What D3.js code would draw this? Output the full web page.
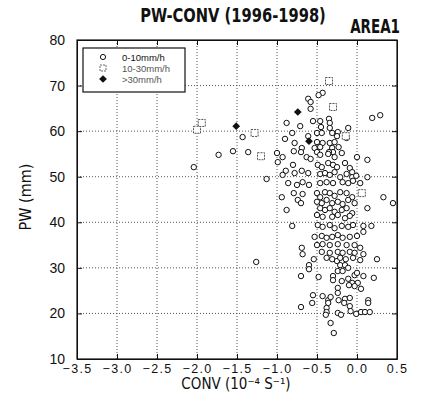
<!DOCTYPE html>
<html>
<head>
<meta charset="utf-8">
<script src="https://cdn.jsdelivr.net/npm/d3@7/dist/d3.min.js"></script>
<style>
  body { margin: 0; background: #fff; }
  text { font-family: "Liberation Sans", Arial, sans-serif; fill: #111; }
  .narrow { font-family: "Liberation Sans Narrow", "DejaVu Sans Condensed", sans-serif; font-weight: bold; }
</style>
</head>
<body>
<svg id="chart" width="421" height="419"></svg>
<script>
// axis ticks
const xTicks = [-3.5, -3.0, -2.5, -2.0, -1.5, -1.0, -0.5, 0.0, 0.5];
const yTicks = [10, 20, 30, 40, 50, 60, 70, 80];
const legendLabels = ["0-10mm/h", "10-30mm/h", ">30mm/h"];

// rain 0-10mm/h  [CONV, PW]
const low = [
  [-1.43,58.7],[-1.55,55.6],[-1.73,54.8],[-2.04,52.1],[-1.36,55.4],[-1.13,49.5],[-1.26,31.3],
  [-0.43,68.4],[-0.48,67.9],[-0.61,67.1],[-0.58,66.4],[-0.58,64.9],[0.29,63.5],[0.19,62.9],
  [-0.88,61.8],[-0.55,62.2],[-0.46,62.2],[-0.35,62.7],[-0.34,61.8],[-0.71,61.1],[-0.45,60.9],
  [-0.34,60.7],[-0.11,60.7],[-0.24,59.8],[-0.81,59.6],[-0.90,58.3],[-0.61,58.9],[-0.50,59.6],
  [-0.44,59.6],[-0.31,59.6],[-0.25,58.9],[-0.13,58.5],[-0.50,57.6],[-0.43,57.4],[-0.34,57.4],
  [-0.28,57.6],[-0.23,56.5],[-0.31,56.3],[-0.78,57.4],[-0.69,56.3],[-0.79,55.6],[-0.70,55.4],
  [-0.53,56.3],[-0.46,56.5],[-0.30,55.4],[-0.35,55.4],[-1.00,55.2],[-0.93,54.3],[-0.99,53.2],
  [0.33,45.5],[0.45,44.2],[-0.89,51.3],
  [-0.63,54.3],[-0.58,53.9],[-0.50,55.4],[-0.46,54.8],[-0.36,55.0],[-0.28,54.3],[-0.19,55.2],
  [0.00,54.3],[0.13,53.7],[-0.80,52.6],[-0.49,52.6],[-0.44,52.1],[-0.36,53.0],[-0.30,52.6],
  [-0.25,52.1],[-0.15,53.0],[-0.09,51.9],[-0.06,51.0],[-0.93,50.4],[-0.78,50.8],[-0.69,51.3],
  [-0.61,50.8],[-0.46,50.6],[-0.40,50.8],[-0.34,50.4],[-0.28,51.0],[-0.21,49.9],[-0.13,50.6],
  [-0.06,49.9],[-0.01,50.2],[0.13,49.9],[-0.86,48.6],[-0.75,48.2],[-0.68,48.8],[-0.60,48.2],
  [-0.46,48.6],[-0.38,48.8],[-0.30,48.6],[-0.18,48.8],[-0.11,48.6],[-0.05,49.1],[0.04,48.6],
  [-0.79,46.4],[-0.68,46.2],[-0.50,46.4],[-0.46,45.5],[-0.40,46.6],[-0.34,46.4],[-0.28,45.8],
  [-0.21,46.6],[-0.13,46.4],[-0.06,45.5],[-0.94,45.5],[-0.74,44.9],[-0.70,44.2],[-0.50,44.5],
  [-0.44,44.2],[-0.38,44.9],[-0.31,44.2],[-0.24,44.5],[-0.18,44.0],[-0.11,44.9],[-0.03,44.2],
  [-0.88,42.7],[-0.46,43.1],[-0.40,42.7],[-0.34,43.1],[-0.28,42.3],[-0.19,42.7],[-0.13,43.1],
  [-0.06,42.0],[0.13,43.1],[-0.50,41.6],[-0.43,41.2],[-0.31,41.2],[-0.24,41.6],[-0.15,40.9],
  [-0.09,41.4],[-0.81,39.2],[-0.49,39.4],[-0.43,39.0],[-0.34,39.4],[-0.28,38.7],[-0.19,39.2],
  [-0.11,39.0],[-0.05,39.4],[0.08,39.2],[0.18,39.2],[-0.53,36.8],[-0.44,37.0],[-0.38,36.6],
  [-0.31,36.8],[-0.24,37.2],[-0.18,36.6],[-0.09,36.8],[0.00,37.0],[0.08,37.9],[-0.50,35.0],
  [-0.43,35.2],[-0.34,35.0],[-0.24,35.2],[-0.13,35.0],[-0.03,35.0],[-0.69,34.4],[0.04,34.4],
  [-0.68,33.0],[-0.44,33.5],[-0.34,33.3],[-0.24,33.5],[-0.18,33.3],[-0.09,33.5],[-0.03,33.3],
  [0.08,33.0],[-0.54,31.9],[-0.38,32.2],[-0.31,31.9],[-0.25,31.5],[-0.21,32.2],[-0.14,31.9],
  [-0.05,32.2],[0.04,31.7],[0.25,31.9],[-0.60,30.6],[-0.60,29.7],[-0.21,30.6],[-0.15,30.6],
  [-0.11,30.0],[-0.24,29.3],[-0.18,29.3],[-0.70,28.2],[-0.48,28.0],[-0.30,28.2],[-0.30,27.3],
  [-0.19,27.1],[-0.11,27.6],[-0.03,28.4],[0.00,28.9],[-0.06,26.7],[0.01,26.7],[0.08,28.2],
  [0.21,27.8],[-0.10,26.2],[-0.03,26.0],[0.05,25.4],[-0.24,25.6],[-0.24,24.5],[-0.55,24.0],
  [-0.43,23.8],[-0.56,22.3],[-0.36,22.9],[-0.33,23.6],[-0.23,22.9],[-0.15,23.2],[-0.09,23.4],
  [-0.16,22.3],[-0.36,22.3],[0.14,22.9],[0.14,22.3],[-0.70,21.4],[-0.38,21.2],[-0.09,21.6],
  [-0.08,20.5],[-0.38,20.3],[-0.39,19.7],[-0.24,20.1],[-0.20,19.7],[-0.01,19.9],[0.05,20.3],
  [0.10,20.3],[0.16,20.3],[-0.33,17.9],[-0.29,15.7]
];

// rain 10-30mm/h
const mid = [
  [-2.00,60.3],[-1.94,61.8],[-1.28,59.6],[-1.20,54.5],[-0.30,65.3],[-0.35,71.0],[0.06,46.4],[-0.14,58.9]
];

// rain >30mm/h
const high = [
  [-1.51,61.1],[-0.74,64.2],[-0.60,57.8]
];

const svg = d3.select("#chart");
const plotL = 77, plotR = 397, plotT = 40, plotB = 359;

const x = d3.scaleLinear().domain([-3.5, 0.5]).range([plotL, plotR]);
const y = d3.scaleLinear().domain([10, 80]).range([plotB, plotT]);

// grid
svg.append("g").selectAll("line")
    .data(xTicks.slice(1, -1))
    .enter().append("line")
    .attr("x1", d => x(d)).attr("x2", d => x(d))
    .attr("y1", plotT).attr("y2", plotB)
    .attr("stroke", "#555").attr("stroke-width", 1)
    .attr("stroke-dasharray", "1,2");
svg.append("g").selectAll("line")
    .data(yTicks.slice(1, -1))
    .enter().append("line")
    .attr("y1", d => y(d)).attr("y2", d => y(d))
    .attr("x1", plotL).attr("x2", plotR)
    .attr("stroke", "#555").attr("stroke-width", 1)
    .attr("stroke-dasharray", "1,2");

// axes with inner ticks
const xAxis = svg.append("g")
    .attr("transform", `translate(0,${plotB})`)
    .call(d3.axisBottom(x).tickValues(xTicks).tickSizeInner(-5).tickSizeOuter(0)
        .tickFormat(d => d3.format(".1f")(d).replace("-", "\u2212")));
xAxis.selectAll("text").attr("y", 5).attr("dy", "0.71em").style("font-size", "12.5px").style("letter-spacing", "1.3px");

const yAxis = svg.append("g")
    .attr("transform", `translate(${plotL},0)`)
    .call(d3.axisLeft(y).tickValues(yTicks).tickSizeInner(-5).tickSizeOuter(0));
yAxis.selectAll("text").attr("x", -12).style("font-size", "14px");

svg.append("g").attr("transform", `translate(0,${plotT})`)
    .call(d3.axisTop(x).tickValues(xTicks).tickSizeInner(-5).tickSizeOuter(0).tickFormat(""));
svg.append("g").attr("transform", `translate(${plotR},0)`)
    .call(d3.axisRight(y).tickValues(yTicks).tickSizeInner(-5).tickSizeOuter(0).tickFormat(""));

svg.selectAll(".domain").attr("stroke", "#111");
svg.selectAll(".tick line").attr("stroke", "#111");

// frame
svg.append("rect")
    .attr("x", plotL).attr("y", plotT)
    .attr("width", plotR - plotL).attr("height", plotB - plotT)
    .attr("fill", "none").attr("stroke", "#111").attr("stroke-width", 1.2);

// points
svg.append("g").selectAll("circle")
    .data(low)
    .enter().append("circle")
    .attr("cx", d => x(d[0])).attr("cy", d => y(d[1]))
    .attr("r", 2.7)
    .attr("fill", "#fff").attr("stroke", "#111").attr("stroke-width", 1);

svg.append("g").selectAll("rect")
    .data(mid)
    .enter().append("rect")
    .attr("x", d => x(d[0]) - 3.5).attr("y", d => y(d[1]) - 3.5)
    .attr("width", 7).attr("height", 7)
    .attr("fill", "#fff").attr("stroke", "#555").attr("stroke-width", 1)
    .attr("stroke-dasharray", "2,1");

const diamond = d3.symbol().type(d3.symbolDiamond2).size(38);
svg.append("g").selectAll("path")
    .data(high)
    .enter().append("path")
    .attr("d", diamond)
    .attr("transform", d => `translate(${x(d[0])},${y(d[1])})`)
    .attr("fill", "#111");

// legend
const lg = svg.append("g");
lg.append("rect")
    .attr("x", 83).attr("y", 48).attr("width", 102).attr("height", 44)
    .attr("fill", "#fff").attr("stroke", "#111").attr("stroke-width", 1.2);
const rows = [57, 68, 79];
lg.append("circle").attr("cx", 103).attr("cy", rows[0]).attr("r", 2.6)
    .attr("fill", "#fff").attr("stroke", "#111");
lg.append("rect").attr("x", 100).attr("y", rows[1] - 3).attr("width", 6).attr("height", 6)
    .attr("fill", "#fff").attr("stroke", "#666").attr("stroke-dasharray", "2,1");
lg.append("path").attr("d", diamond).attr("transform", `translate(103,${rows[2]})`).attr("fill", "#111");
lg.selectAll("text.lbl")
    .data(legendLabels)
    .enter().append("text")
    .attr("class", "lbl")
    .attr("x", 122).attr("y", (d, i) => rows[i] + 3.5)
    .style("font-size", "9.5px")
    .style("fill", (d, i) => i === 0 ? "#111" : "#555")
    .text(d => d);

// titles (condensed look via horizontal scale)
svg.append("text").attr("class", "narrow")
    .attr("transform", "translate(233,22) scale(0.86,1)")
    .attr("text-anchor", "middle")
    .style("font-size", "19px").text("PW-CONV (1996-1998)");
svg.append("text").attr("class", "narrow")
    .attr("transform", "translate(400,33) scale(0.75,1)")
    .attr("text-anchor", "end")
    .style("font-size", "20px").text("AREA1");

svg.append("text").attr("class", "narrow")
    .attr("transform", "translate(31,197) rotate(-90)")
    .attr("text-anchor", "middle")
    .style("font-size", "16px").style("font-weight", "normal")
    .text("PW (mm)");

svg.append("text").attr("class", "narrow")
    .attr("x", 236).attr("y", 389).attr("text-anchor", "middle")
    .style("font-size", "15px").style("font-weight", "normal")
    .text("CONV (10\u207B\u2074 S\u207B\u00B9)");
</script>
</body>
</html>
